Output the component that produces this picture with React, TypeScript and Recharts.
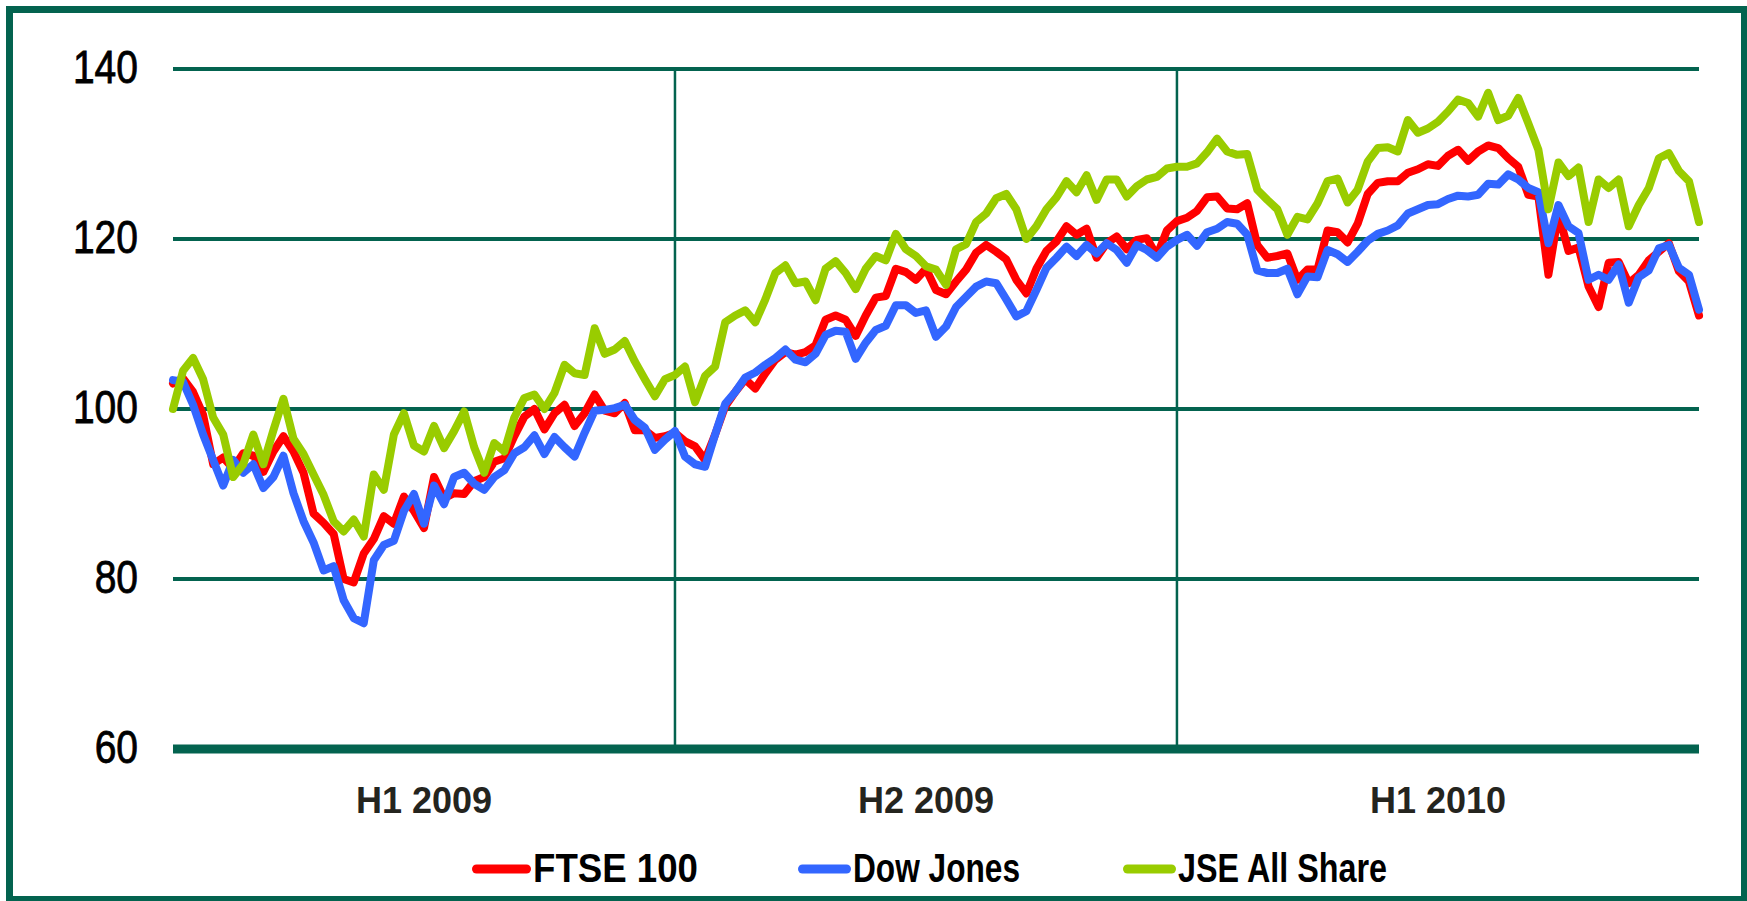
import React from 'react';
import { LineChart, Line, XAxis, YAxis, CartesianGrid, ReferenceLine, Legend } from 'recharts';

// ---- data ----
const periods = ['H1 2009', 'H2 2009', 'H1 2010'];
const periodStarts = [0, 50, 100];
const lastIndex = 152;
const yTicks = [60, 80, 100, 120, 140];
const seriesNames = ['FTSE 100', 'Dow Jones', 'JSE All Share'];

const ftse = [
  103, 103.6, 102, 99.3, 93.5, 94.3, 93, 94.8, 94.5, 92.6, 95, 96.8, 95, 92.5, 87.7, 86.6, 85.3, 80, 79.6, 83, 84.7, 87.4, 86.5, 89.7, 88, 86, 92,
  89.5, 90.1, 90, 91.5, 92, 93.8, 94.2, 96.8, 99.1, 100, 97.6, 99.5, 100.5, 98, 99.5, 101.7, 99.8, 99.5, 100.7, 97.5, 97.5, 96.6, 96.8, 97.2, 96.2, 95.6,
  94, 97, 100.3, 102, 103.5, 102.4, 104.2, 105.8, 106.7, 106.4, 106.7, 107.5, 110.5, 111, 110.5, 108.6, 111, 113.1, 113.3, 116.5, 116.1, 115.2, 116.5, 114, 113.5,
  115, 116.4, 118.4, 119.3, 118.5, 117.6, 115.2, 113.6, 116.5, 118.6, 119.7, 121.5, 120.5, 121.2, 117.8, 119.5, 120.3, 118.8, 119.9, 120.1, 118, 121, 122.1, 122.5, 123.3, 124.9,
  125, 123.6, 123.5, 124.2, 119.3, 117.8, 118, 118.3, 115.2, 116.4, 116.4, 121, 120.8, 119.6, 121.8, 125.3, 126.6, 126.8, 126.8, 127.8, 128.2, 128.8, 128.6, 129.8, 130.5, 129.2,
  130.3, 131, 130.7, 129.5, 128.5, 125.2, 125, 115.8, 123, 118.6, 119, 114.4, 112, 117.2, 117.3, 114.8, 115.8, 117.5, 118.5, 119.5, 116.2, 115, 111,
];

const dow = [
  103.4, 103.2, 100.5, 97, 94, 91, 94, 92.5, 93.5, 90.7, 92, 94.5, 90.1, 86.8, 84.3, 81, 81.5, 77.5, 75.4, 74.8, 82.2, 84, 84.5, 88, 90, 86.5, 91,
  88.8, 92, 92.5, 91.2, 90.5, 92, 92.8, 94.8, 95.5, 96.9, 94.7, 96.7, 95.5, 94.4, 97.2, 99.8, 99.9, 100.1, 100.5, 98.7, 97.8, 95.2, 96.4, 97.4, 94.4, 93.5,
  93.2, 97, 100.6, 102, 103.7, 104.3, 105.2, 106, 107, 105.8, 105.5, 106.5, 108.7, 109.2, 109.1, 105.9, 107.8, 109.3, 109.8, 112.2, 112.2, 111.3, 111.6, 108.5, 109.7,
  112, 113.2, 114.4, 115, 114.8, 112.9, 110.9, 111.5, 114, 116.6, 117.8, 119.1, 118, 119.3, 118.3, 119.5, 118.7, 117.2, 119.3, 118.7, 117.8, 119.1, 119.9, 120.5, 119.2, 120.8,
  121.2, 122, 121.8, 120.5, 116.3, 116, 116, 116.5, 113.5, 115.6, 115.5, 118.7, 118.2, 117.3, 118.5, 119.8, 120.6, 121, 121.6, 123, 123.5, 124, 124.1, 124.7, 125.1, 125,
  125.2, 126.5, 126.4, 127.6, 127, 126, 125.5, 119.5, 124, 121.5, 120.7, 115.2, 115.8, 115.2, 117, 112.5, 115.5, 116.3, 118.9, 119.3, 116.6, 115.8, 111.7,
];

const jse = [
  100, 104.5, 106, 103.5, 99, 97, 92, 93.5, 97, 93.5, 97.5, 101.2, 96.5, 94.7, 92.3, 89.9, 86.8, 85.6, 87, 85, 92.3, 90.5, 97, 99.5, 95.7, 95, 98,
  95.4, 97.4, 99.7, 95.5, 92.5, 96, 95, 99, 101.3, 101.7, 100, 101.9, 105.2, 104.2, 104, 109.5, 106.5, 107, 108, 105.6, 103.5, 101.5, 103.5, 104, 105, 100.8,
  103.9, 105, 110.2, 111, 111.6, 110.2, 112.9, 116, 116.9, 114.8, 115, 112.8, 116.5, 117.4, 116, 114.1, 116.5, 118, 117.5, 120.6, 118.8, 118, 116.8, 116.4, 114.6,
  118.8, 119.4, 122, 123, 124.8, 125.3, 123.5, 120, 121.5, 123.5, 124.9, 126.8, 125.5, 127.5, 124.6, 127, 127, 125, 126.2, 127, 127.3, 128.3, 128.5, 128.5, 128.9, 130.2,
  131.8, 130.3, 129.9, 130, 125.8, 124.6, 123.5, 120.5, 122.6, 122.3, 124.2, 126.8, 127.1, 124.3, 125.8, 129.1, 130.7, 130.8, 130.3, 134, 132.5, 133, 133.8, 135, 136.4, 136,
  134.4, 137.2, 134, 134.5, 136.6, 133.6, 130.5, 123.5, 129, 127.4, 128.4, 122, 127, 126, 127, 121.5, 124, 126, 129.5, 130.1, 128, 126.8, 122,
];

const data = ftse.map((v, i) => ({ i, ftse: v, dow: dow[i], jse: jse[i] }));
const periodEnds = [...periodStarts.slice(1), lastIndex];
const periodCenters = periodStarts.map((s, k) => (s + periodEnds[k]) / 2);

// ---- styles ----
const FRAME = '#03634F';
const FONT = '"Liberation Sans", Arial, Helvetica, sans-serif';
const COLORS = ['#FF0000', '#3366FF', '#99CC00'];

const legendLayout = [
  { x1: 472, x2: 531, tx: 533, tw: 165 },
  { x1: 798, x2: 851, tx: 853, tw: 167 },
  { x1: 1123, x2: 1176, tx: 1178, tw: 209 },
];

const YTick = (props: any) => {
  const { y, payload } = props;
  return (
    <g transform={`translate(138, ${y + 14}) scale(1, 1.18)`}>
      <text x={0} y={0} textAnchor="end" fontSize={39} fill="#000" stroke="#000" strokeWidth={0.7} fontFamily={FONT}>
        {payload.value}
      </text>
    </g>
  );
};

const XTick = (props: any) => {
  const { x, payload } = props;
  const idx = periodCenters.indexOf(payload.value);
  return (
    <text x={x} y={813} textAnchor="middle" fontSize={36} fontWeight="bold" fill="#24241E" fontFamily={FONT}>
      {periods[idx]}
    </text>
  );
};

const LegendContent = (props: any) => {
  const payload = props.payload || [];
  return (
    <svg width={1747} height={70} style={{ display: 'block' }}>
      {payload.map((entry: any, k: number) => {
        const idx = Math.max(0, seriesNames.indexOf(entry.value));
        const L = legendLayout[idx];
        return (
          <g key={k}>
            <line x1={L.x1 + 4.5} x2={L.x2 - 4.5} y1={39} y2={39} stroke={entry.color} strokeWidth={9} strokeLinecap="round" />
            <text
              x={L.tx}
              y={52}
              fontSize={40}
              fontWeight="bold"
              fill="#000"
              fontFamily={FONT}
              textLength={L.tw}
              lengthAdjust="spacingAndGlyphs"
            >
              {entry.value}
            </text>
          </g>
        );
      })}
    </svg>
  );
};

export default function App() {
  return (
    <div style={{ position: 'absolute', left: 0, top: 0, width: 1747, height: 901, overflow: 'hidden', background: '#fff' }}>
      <div
        style={{
          position: 'absolute',
          left: 6,
          top: 6,
          width: 1742,
          height: 897,
          boxSizing: 'border-box',
          border: `7px solid ${FRAME}`,
        }}
      />
      <div style={{ position: 'absolute', left: 0, top: 0 }}>
        <LineChart width={1747} height={901} data={data} margin={{ top: 69, right: 48, bottom: 72, left: 33 }}>
          <CartesianGrid vertical={false} stroke={FRAME} strokeWidth={4} />
          <XAxis
            dataKey="i"
            type="number"
            domain={[0, lastIndex]}
            ticks={periodCenters}
            interval={0}
            height={80}
            axisLine={{ stroke: FRAME, strokeWidth: 9 }}
            tickLine={false}
            tick={<XTick />}
          />
          <YAxis
            domain={[60, 140]}
            ticks={yTicks}
            width={140}
            axisLine={false}
            tickLine={false}
            tick={<YTick />}
          />
          {periodStarts.slice(1).map((s) => (
            <ReferenceLine key={s} x={s} stroke={FRAME} strokeWidth={2.5} />
          ))}
          <Line type="linear" dataKey="ftse" name={seriesNames[0]} stroke={COLORS[0]} strokeWidth={8} dot={false} isAnimationActive={false} strokeLinejoin="round" strokeLinecap="round" />
          <Line type="linear" dataKey="dow" name={seriesNames[1]} stroke={COLORS[1]} strokeWidth={8} dot={false} isAnimationActive={false} strokeLinejoin="round" strokeLinecap="round" />
          <Line type="linear" dataKey="jse" name={seriesNames[2]} stroke={COLORS[2]} strokeWidth={8} dot={false} isAnimationActive={false} strokeLinejoin="round" strokeLinecap="round" />
          <Legend
            layout="horizontal"
            verticalAlign="middle"
            align="center"
            content={<LegendContent />}
            wrapperStyle={{ top: 830, left: 0, width: 1747, height: 70 }}
          />
        </LineChart>
      </div>
    </div>
  );
}
